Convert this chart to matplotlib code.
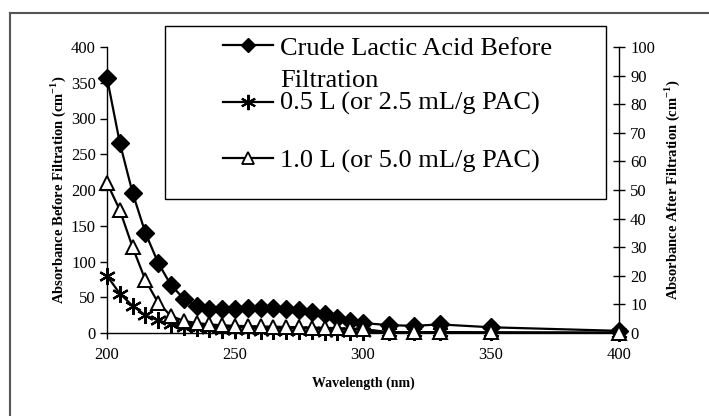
import matplotlib
matplotlib.use("Agg")
import matplotlib.pyplot as plt
from matplotlib.lines import Line2D
from matplotlib.patches import Rectangle

plt.rcParams['font.family'] = ['Liberation Serif', 'DejaVu Serif']
plt.rcParams['mathtext.fontset'] = 'custom'
plt.rcParams['mathtext.rm'] = 'Liberation Serif'
plt.rcParams['mathtext.bf'] = 'Liberation Serif:bold'

wavelength = [200, 205, 210, 215, 220, 225, 230, 235, 240, 245, 250, 255, 260, 265,
              270, 275, 280, 285, 290, 295, 300, 310, 320, 330, 350, 400]
crude_before = [357, 266, 196, 140, 98, 67, 48, 38, 34, 33, 34, 35, 35, 35,
                34, 32, 30, 26, 21, 17, 14, 11, 10, 12, 8, 3]
after_05L = [20, 13.8, 9.5, 6.2, 4.4, 3.1, 2.2, 1.8, 1.5, 1.2, 1.0, 0.9, 0.8, 0.7,
             0.7, 0.6, 0.6, 0.5, 0.5, 0.4, 0.4, 0.3, 0.3, 0.3, 0.2, 0.1]
after_10L = [52.5, 43, 30, 18.5, 10.5, 6, 4.2, 3.5, 3.0, 2.7, 2.5, 2.4, 2.3, 2.2,
             2.1, 2.0, 1.9, 1.8, 1.7, 1.5, 1.4, 0.3, 0.3, 0.3, 0.2, 0.1]

labels = ["Crude Lactic Acid Before\nFiltration",
          "0.5 L (or 2.5 mL/g PAC)",
          "1.0 L (or 5.0 mL/g PAC)"]

W, H = 709, 416
fig = plt.figure(figsize=(W / 100, H / 100), dpi=100)

def fx(px):
    return px / W

def fy(py):
    return 1 - py / H

ax = fig.add_axes([fx(107), fy(333), fx(619) - fx(107), fy(47) - fy(333)])
ax2 = ax.twinx()

lw = 1.6
ax.plot(wavelength, crude_before, color='black', lw=lw, marker='D', markersize=9,
        markerfacecolor='black', markeredgecolor='black', zorder=3, clip_on=False)
ax2.plot(wavelength, after_05L, color='black', lw=lw, marker=(6, 2, 0), markersize=12,
         markeredgewidth=1.6, markeredgecolor='black', zorder=3, clip_on=False)
ax2.plot(wavelength, after_10L, color='black', lw=lw, marker='^', markersize=10,
         markerfacecolor='white', markeredgecolor='black', markeredgewidth=1.4, zorder=3,
         clip_on=False)

ax.set_xlim(200, 400)
ax.set_ylim(0, 400)
ax2.set_ylim(0, 100)
ax.set_xticks([200, 250, 300, 350, 400])
ax.set_yticks(range(0, 401, 50))
ax2.set_yticks(range(0, 101, 10))

for a in (ax, ax2):
    a.spines['top'].set_visible(False)
    for s in a.spines.values():
        s.set_linewidth(1.0)
ax.spines['right'].set_visible(False)
ax2.spines['left'].set_visible(False)
ax2.spines['bottom'].set_visible(False)

ax.tick_params(axis='y', direction='out', length=5, width=1, labelsize=12, pad=3)
ax.tick_params(axis='x', direction='out', length=4, width=1, labelsize=12, pad=6)
ax2.tick_params(axis='y', direction='inout', length=8, width=1, labelsize=12, pad=4)

ax.set_xlabel("Wavelength (nm)", fontsize=10, fontweight='bold', labelpad=10)
ax.set_ylabel(r"Absorbance Before Filtration (cm$^{\mathbf{-1}}$)", fontsize=10.5,
              fontweight='bold', labelpad=2)
ax2.set_ylabel(r"Absorbance After Filtration (cm$^{\mathbf{-1}}$)", fontsize=10.5,
               fontweight='bold', labelpad=5)

# figure frame (left and top edges visible)
fig.add_artist(Line2D([fx(10), fx(10)], [0, fy(13)], color='#555555', lw=1.5))
fig.add_artist(Line2D([fx(10), 1], [fy(13), fy(13)], color='#555555', lw=1.5))

# legend box
fig.add_artist(Rectangle((fx(165), fy(199)), fx(606) - fx(165), fy(26) - fy(199),
                         facecolor='white', edgecolor='black', lw=1.0, zorder=5))
rows = [45, 102, 158]
styles = [dict(marker='D', markersize=7, markerfacecolor='black'),
          dict(marker=(6, 2, 0), markersize=11, markeredgewidth=1.5),
          dict(marker='^', markersize=8, markerfacecolor='white', markeredgewidth=1.3)]
for ry, st in zip(rows, styles):
    fig.add_artist(Line2D([fx(223), fx(273)], [fy(ry), fy(ry)], color='black', lw=1.6,
                          zorder=6))
    fig.add_artist(Line2D([fx(248)], [fy(ry)], color='black', markeredgecolor='black',
                          zorder=7, **st))
first_line, second_line = labels[0].split("\n")
fig.text(fx(280), fy(55), first_line, fontsize=19, va='baseline', zorder=8)
fig.text(fx(280), fy(87), second_line, fontsize=19, va='baseline', zorder=8)
fig.text(fx(280), fy(110), labels[1], fontsize=19, va='baseline', zorder=8)
fig.text(fx(280), fy(168), labels[2], fontsize=19, va='baseline', zorder=8)

fig.savefig("out.png", dpi=100)
